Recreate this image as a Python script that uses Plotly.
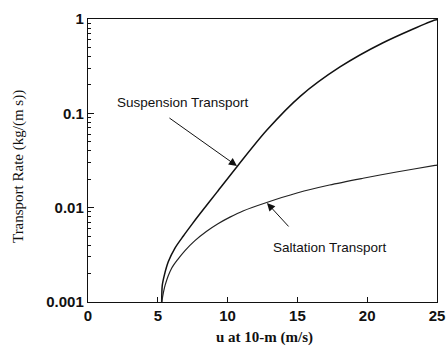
import plotly.graph_objects as go

# Suspension transport (u at 10 m in m/s, transport rate kg/(m s))
susp_u = [5.28, 5.32, 5.47, 5.75, 6.23, 6.83, 7.43, 8.02, 9.24, 10.7, 12.8, 15.2, 18.05, 21.1, 24.86, 25.0]
susp_q = [0.001, 0.0015, 0.00193, 0.00267, 0.00373, 0.00501, 0.00661, 0.00861, 0.01462, 0.02754, 0.0661, 0.1514, 0.31, 0.557, 0.976, 0.98]

# Saltation transport
salt_u = [5.28, 5.52, 6.0, 6.45, 6.95, 7.66, 8.5, 9.31, 10.17, 11.1, 12.8, 14.97, 17.3, 19.7, 22.1, 24.86, 25.0]
salt_q = [0.001, 0.0015, 0.00229, 0.00285, 0.00351, 0.00447, 0.00562, 0.00676, 0.00794, 0.00923, 0.01135, 0.01429, 0.01738, 0.0205, 0.02388, 0.02805, 0.0283]

y_tickvals = [0.001, 0.01, 0.1, 1]
y_ticktext = ["0.001", "0.01", "0.1", "1"]
y_minor = [m * d for d in (0.001, 0.01, 0.1) for m in range(2, 10)]
x_tickvals = [0, 5, 10, 15, 20, 25]

fig = go.Figure()
fig.add_trace(go.Scatter(x=susp_u, y=susp_q, mode="lines", line=dict(color="#111", width=1.5, shape="spline", smoothing=0.8),
                         name="Suspension Transport", showlegend=False))
fig.add_trace(go.Scatter(x=salt_u, y=salt_q, mode="lines", line=dict(color="#222", width=1.2, shape="spline", smoothing=0.8),
                         name="Saltation Transport", showlegend=False))

tickfont = dict(family="Liberation Sans", size=15, color="#111", weight="bold")
fig.update_xaxes(range=[0, 25], tickvals=x_tickvals, ticks="inside", ticklen=5, tickcolor="#111",
                 showline=True, linecolor="#111", linewidth=1.2, mirror=True, showgrid=False, zeroline=False,
                 tickfont=tickfont, automargin=False)
fig.update_yaxes(type="log", range=[-3, 0], tickvals=y_tickvals, ticktext=y_ticktext, ticks="inside", ticklen=6,
                 tickcolor="#111", showline=True, linecolor="#111", linewidth=1.2, mirror=True, showgrid=False,
                 zeroline=False, tickfont=tickfont, automargin=False,
                 minor=dict(tickmode="array", tickvals=y_minor, ticks="inside", ticklen=3, tickcolor="#111", showgrid=False))

# Axis titles
fig.add_annotation(xref="paper", yref="paper", x=0, y=0.477, xshift=-70, textangle=-90, showarrow=False,
                   text="Transport Rate (kg/(m s))", xanchor="center", yanchor="middle",
                   font=dict(family="Liberation Serif", size=15, color="#111"))
fig.add_annotation(xref="paper", yref="paper", x=0.507, y=0, yshift=-35, showarrow=False,
                   text="<b>u at 10-m (m/s)</b>", xanchor="center", yanchor="middle",
                   font=dict(family="Liberation Serif", size=15, color="#111"))

# Labels and arrows
fig.add_annotation(x=6.8, y=-0.89, text="Suspension Transport", showarrow=False,
                   font=dict(family="Liberation Sans", size=13.5, color="#111"))
fig.add_annotation(x=10.67, y=-1.558, ax=-69, ay=-49, text="", showarrow=True, arrowhead=2, arrowsize=1.6,
                   arrowwidth=1, arrowcolor="#111", standoff=0)
fig.add_annotation(x=17.34, y=-2.417, text="Saltation Transport", showarrow=False,
                   font=dict(family="Liberation Sans", size=13.5, color="#111"))
fig.add_annotation(x=12.82, y=-1.95, ax=23, ay=25, text="", showarrow=True, arrowhead=2, arrowsize=1.6,
                   arrowwidth=1, arrowcolor="#111", standoff=0)

fig.update_layout(width=446, height=347, margin=dict(l=88, r=9, t=19, b=45),
                  plot_bgcolor="white", paper_bgcolor="white", showlegend=False)
fig.write_html("out.html", config={"displayModeBar": False, "staticPlot": True},
               post_script="document.body.style.margin='0';document.body.style.overflow='hidden';")
